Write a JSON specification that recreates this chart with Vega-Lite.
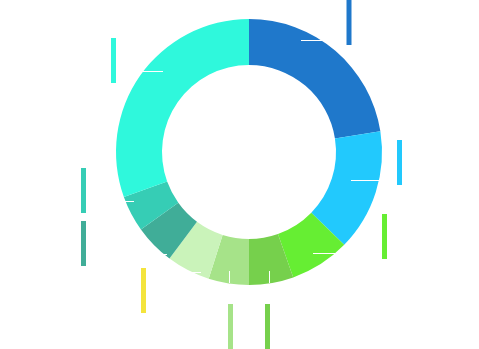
{
  "$schema": "https://vega.github.io/schema/vega-lite/v6.json",
  "autosize": "none",
  "padding": {"left": 0, "top": 0, "right": 0, "bottom": 45},
  "width": 498,
  "height": 304,
  "background": "#ffffff",
  "config": {"view": {"stroke": null}},
  "datasets": {
    "slices": [
      {"name": "A", "idx": 1, "value": 22.5},
      {"name": "B", "idx": 2, "value": 14.8},
      {"name": "C", "idx": 3, "value": 7.3},
      {"name": "D", "idx": 4, "value": 5.4},
      {"name": "E", "idx": 5, "value": 4.9},
      {"name": "F", "idx": 6, "value": 5.3},
      {"name": "G", "idx": 7, "value": 4.9},
      {"name": "H", "idx": 8, "value": 4.4},
      {"name": "I", "idx": 9, "value": 30.5}
    ],
    "labels": [
      {"name": "A", "lx": 100, "ly1": -152, "ly2": -107},
      {"name": "B", "lx": 150.5, "ly1": -12, "ly2": 33},
      {"name": "C", "lx": 135.5, "ly1": 62, "ly2": 107},
      {"name": "D", "lx": 18.5, "ly1": 152, "ly2": 197},
      {"name": "E", "lx": -18.5, "ly1": 152, "ly2": 197},
      {"name": "F", "lx": -105.5, "ly1": 116, "ly2": 161},
      {"name": "G", "lx": -165.5, "ly1": 69, "ly2": 114},
      {"name": "H", "lx": -165.5, "ly1": 16, "ly2": 61},
      {"name": "I", "lx": -135.5, "ly1": -114, "ly2": -69}
    ],
    "leaders": [
      {"name": "A", "x1": 52, "x2": 74, "y1": -111.5, "y2": -111.5},
      {"name": "B", "x1": 102, "x2": 131, "y1": 28.5, "y2": 28.5},
      {"name": "C", "x1": 64, "x2": 86, "y1": 101.5, "y2": 101.5},
      {"name": "D", "x1": 20.5, "x2": 20.5, "y1": 119, "y2": 131},
      {"name": "E", "x1": -19.5, "x2": -19.5, "y1": 119, "y2": 131},
      {"name": "F", "x1": -59, "x2": -48, "y1": 120.5, "y2": 120.5},
      {"name": "G", "x1": -86, "x2": -82, "y1": 102.5, "y2": 102.5},
      {"name": "H", "x1": -124, "x2": -115, "y1": 49.5, "y2": 49.5},
      {"name": "I", "x1": -107, "x2": -86, "y1": -80.5, "y2": -80.5}
    ]
  },
  "layer": [
    {
      "data": {"name": "slices"},
      "mark": {"type": "arc", "innerRadius": 87, "outerRadius": 133},
      "encoding": {
        "theta": {"field": "value", "type": "quantitative", "stack": true},
        "order": {"field": "idx", "type": "quantitative"},
        "color": {
          "field": "name", "type": "nominal", "legend": null,
          "scale": {
            "domain": ["A","B","C","D","E","F","G","H","I"],
            "range": ["#1f78cb","#22c9fd","#66ee33","#76d04c","#a6e389","#caf3ba","#40ad98","#36cdb5","#2ff8dc"]
          }
        }
      }
    },
    {
      "data": {"name": "labels"},
      "mark": {"type": "rule", "strokeWidth": 5, "strokeCap": "butt", "clip": false},
      "encoding": {
        "x": {"field": "lx", "type": "quantitative", "axis": null, "scale": {"domain": [-249, 249], "nice": false, "zero": false}},
        "y": {"field": "ly1", "type": "quantitative", "axis": null, "scale": {"domain": [-152, 152], "nice": false, "zero": false, "reverse": true}},
        "y2": {"field": "ly2"},
        "color": {
          "field": "name", "type": "nominal", "legend": null,
          "scale": {
            "domain": ["A","B","C","D","E","F","G","H","I"],
            "range": ["#1f78cb","#22c9fd","#66ee33","#76d04c","#a6e389","#f4e43c","#40ad98","#36cdb5","#2ff8dc"]
          }
        }
      }
    },
    {
      "data": {"name": "leaders"},
      "mark": {"type": "rule", "strokeWidth": 1, "color": "#ffffff"},
      "encoding": {
        "x": {"field": "x1", "type": "quantitative", "axis": null, "scale": {"domain": [-249, 249], "nice": false, "zero": false}},
        "x2": {"field": "x2"},
        "y": {"field": "y1", "type": "quantitative", "axis": null, "scale": {"domain": [-152, 152], "nice": false, "zero": false, "reverse": true}},
        "y2": {"field": "y2"}
      }
    }
  ],
  "resolve": {"scale": {"color": "independent"}}
}
